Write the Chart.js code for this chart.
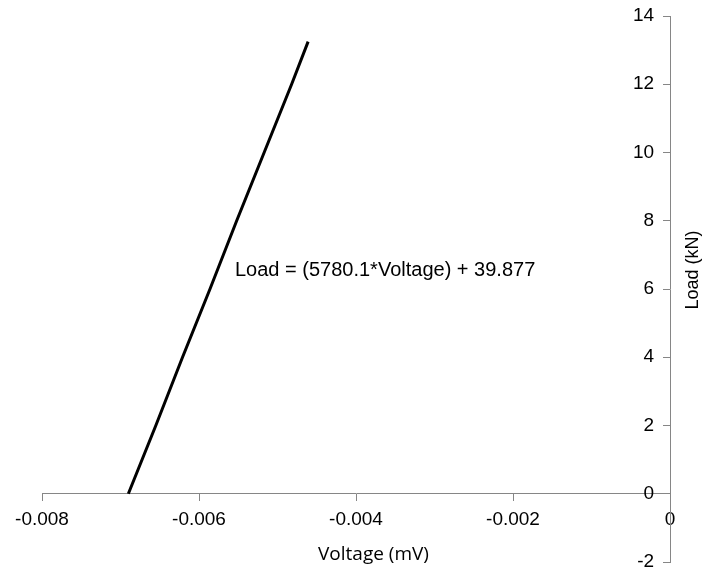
<!DOCTYPE html>
<html>
<head>
<meta charset="utf-8">
<script src="https://cdn.jsdelivr.net/npm/chart.js@4/dist/chart.umd.min.js"></script>
<style>
  html, body { margin: 0; padding: 0; background: #fff; }
  #wrap { width: 704px; height: 567px; }
</style>
</head>
<body>
<div id="wrap"><canvas id="loadChart"></canvas></div>
<script>
// calibration readings, voltage (mV) vs load (kN)
const voltage = [-0.0069, -0.00655, -0.00621, -0.00586, -0.00552, -0.00517, -0.00482, -0.00461];
const load = [0, 2, 4, 6, 8, 10, 12, 13.25];
const xTicks = [-0.008, -0.006, -0.004, -0.002, 0];
const yTicks = [-2, 0, 2, 4, 6, 8, 10, 12, 14];
const fitLabel = 'Load = (5780.1*Voltage) + 39.877';

const points = voltage.map((v, i) => ({ x: v, y: load[i] }));

const axisColor = '#868686';

// equation text and axis titles
const textPlugin = {
  id: 'texts',
  afterDraw(chart) {
    const c = chart.ctx;
    const a = chart.chartArea;
    c.save();
    c.fillStyle = '#000';
    c.font = '20px "Liberation Sans", Arial, sans-serif';
    c.textBaseline = 'middle';
    c.textAlign = 'left';
    c.fillText(fitLabel, 235, 270);

    c.font = '19px "Open Sans", sans-serif';
    c.textAlign = 'left';
    c.fillText('Voltage (mV)', 318, 555);

    c.translate(a.right + 23, 270);
    c.rotate(-Math.PI / 2);
    c.textAlign = 'center';
    c.font = '18px "Liberation Sans", Arial, sans-serif';
    c.fillText('Load (kN)', 0, 0);
    c.restore();
  }
};

new Chart(document.getElementById('loadChart'), {
  type: 'scatter',
  data: {
    datasets: [{
      data: points,
      showLine: true,
      borderColor: '#000',
      borderWidth: 3,
      pointRadius: 0,
      tension: 0
    }]
  },
  options: {
    responsive: true,
    maintainAspectRatio: false,
    animation: false,
    layout: { padding: { left: 42, right: 34, top: 16, bottom: 5 } },
    plugins: { legend: { display: false }, tooltip: { enabled: false } },
    scales: {
      x: {
        type: 'linear',
        min: -0.008,
        max: 0,
        position: { y: 0 },
        afterBuildTicks: s => { s.ticks = xTicks.map(v => ({ value: v })); },
        ticks: {
          color: '#000',
          font: { family: '"Liberation Sans", Arial, sans-serif', size: 19 },
          padding: 8,
          maxRotation: 0,
          callback: v => String(v)
        },
        grid: { drawOnChartArea: false, drawTicks: true, tickLength: 7, color: axisColor },
        border: { color: axisColor, width: 1 }
      },
      y: {
        type: 'linear',
        min: -2,
        max: 14,
        position: { x: 0 },
        afterBuildTicks: s => { s.ticks = yTicks.map(v => ({ value: v })); },
        ticks: {
          color: '#000',
          font: { family: '"Liberation Sans", Arial, sans-serif', size: 19, lineHeight: 0.4 },
          padding: 0,
          // labels sit left of the axis line, clear of the tick marks
          callback: v => v + '   '
        },
        grid: { drawOnChartArea: false, drawTicks: true, tickLength: 7, color: axisColor },
        border: { color: axisColor, width: 1 }
      }
    }
  },
  plugins: [textPlugin]
});
</script>
</body>
</html>
